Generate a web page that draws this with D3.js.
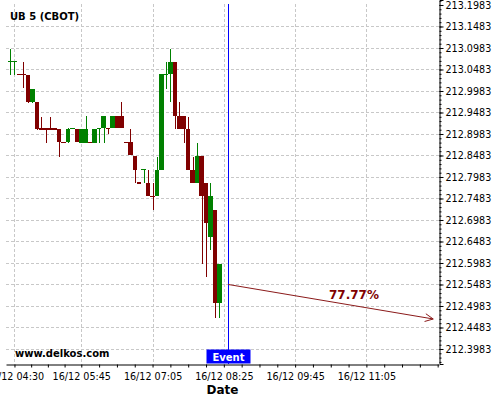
<!DOCTYPE html>
<html><head><meta charset="utf-8">
<script src="https://cdn.jsdelivr.net/npm/d3@7"></script>
<style>body{margin:0;background:#fff}svg{display:block;font-family:"DejaVu Sans",sans-serif}</style>
</head><body><svg id="c" width="500" height="400"></svg>
<script>
const times = ["04:25","04:30","04:35","04:40","04:45","04:50","04:55","05:00","05:05","05:10",
  "05:15","05:20","05:25","05:30","05:35","05:40","05:45","05:50","05:55","06:00",
  "06:05","06:10","06:15","06:20","06:25","06:30","06:35","06:40","06:45","06:50",
  "06:55","07:00","07:05","07:10","07:15","07:20","07:25","07:30","07:35","07:40",
  "07:45","07:50","07:55","08:00","08:05","08:10","08:15","08:20"];
const open  = [213.0670,213.0670,213.0380,213.0380,213.0360,212.9730,212.9730,212.9115,212.9115,212.9115,
  212.9115,212.9100,212.8795,212.8790,212.9115,212.9100,212.8770,212.8770,212.8795,212.8770,
  212.9115,212.9115,212.9120,212.9120,212.9400,212.9400,212.8795,212.8790,212.8470,212.7855,
  212.8165,212.7836,212.7545,212.7540,212.8146,213.0370,213.0370,213.0650,212.9400,212.9400,
  212.9100,212.8146,212.7850,212.8470,212.7850,212.6595,212.7216,212.5046];
const high  = [213.0950,213.0675,213.0380,213.0650,213.0360,213.0030,212.9730,212.9385,212.9115,212.9385,
  212.9115,212.9100,212.8795,212.9120,212.9120,212.9100,212.9100,212.9400,212.8795,212.9100,
  212.9120,212.9400,212.9120,212.9400,212.9400,212.9720,212.8795,212.9100,212.8470,212.7855,
  212.8170,212.8146,212.7840,212.8455,213.0370,213.0650,213.0950,213.0650,212.9720,212.9400,
  212.9385,212.8455,212.8770,212.8470,212.7850,212.7836,212.7216,212.5953];
const low   = [213.0360,213.0360,213.0375,213.0050,212.9710,212.9700,212.9080,212.9100,212.8770,212.9100,
  212.9110,212.8455,212.8790,212.8770,212.9115,212.8790,212.8770,212.8770,212.8790,212.8770,
  212.8770,212.8770,212.8980,212.9120,212.9115,212.9115,212.8790,212.8490,212.7836,212.7850,
  212.7836,212.7550,212.7216,212.7540,212.8146,213.0020,212.9720,212.9100,212.9100,212.8770,
  212.8146,212.7850,212.7850,212.5953,212.5650,212.6285,212.4697,212.4697];
const close = [213.0675,213.0675,213.0375,213.0375,212.9730,213.0030,212.9100,212.9110,212.9110,212.9110,
  212.9110,212.8790,212.8790,212.9100,212.9120,212.8790,212.9100,212.9100,212.8790,212.9100,
  212.9120,212.9400,212.9115,212.9400,212.9115,212.9115,212.8790,212.8490,212.8146,212.7850,
  212.8170,212.7550,212.7540,212.8146,213.0370,213.0375,213.0650,212.9400,212.9100,212.9100,
  212.8146,212.7850,212.8470,212.7550,212.6920,212.7540,212.5046,212.5953];
const xTickTimes  = ["04:30","05:45","07:05","08:25","09:45","11:05"];
const xTickLabels = ["16/12 04:30","16/12 05:45","16/12 07:05","16/12 08:25","16/12 09:45","16/12 11:05"];
const yTickLabels = ["212.3983","212.4483","212.4983","212.5483","212.5983","212.6483","212.6983","212.7483",
  "212.7983","212.8483","212.8983","212.9483","212.9983","213.0483","213.0983","213.1483","213.1983"];
const eventTime = "08:30";
const eventLabel = "Event";
const forecastTimes = ["08:30","12:20"];
const forecastPrices = [212.5483, 212.4681];
const forecastLabel = "77.77%";
const title = "UB 5 (CBOT)";
const watermark = "www.delkos.com";
const xTitle = "Date";

const mins = s => { const [h,m] = s.split(":").map(Number); return h*60+m; };
const GREEN = "#008000", RED = "#800000";
const svg = d3.select("#c");
const L = 6, R = 439, T = 0, B = 364;
const x = d3.scaleLinear().domain([260.5, 746.5]).range([L, R]);
const y = d3.scaleLinear().domain([212.3634, 213.2099]).range([B, T]);

const yMajor = yTickLabels.map(Number);
const xMajor = xTickTimes.map(mins);

// grid
const grid = svg.append("g").attr("stroke", "#c8c8c8").attr("stroke-dasharray", "3,2").attr("stroke-width", 1);
grid.selectAll("line.h").data(yMajor.filter(v => y(v) > 8)).join("line")
  .attr("x1", L).attr("x2", R).attr("y1", d => Math.round(y(d)) + 0.5).attr("y2", d => Math.round(y(d)) + 0.5);
grid.selectAll("line.v").data(xMajor).join("line")
  .attr("y1", 4).attr("y2", B).attr("x1", d => Math.round(x(d)) + 0.5).attr("x2", d => Math.round(x(d)) + 0.5);

// candles
const step = x(5) - x(0);
const candles = svg.append("g");
times.forEach((t, i) => {
  const cx = x(mins(t));
  const up = close[i] >= open[i];
  const col = up ? GREEN : RED;
  candles.append("line").attr("x1", Math.round(cx) + 0.5).attr("x2", Math.round(cx) + 0.5)
    .attr("y1", y(high[i])).attr("y2", y(low[i])).attr("stroke", col).attr("stroke-width", 1)
    .attr("shape-rendering", "crispEdges");
  const yt = y(Math.max(open[i], close[i])), yb = y(Math.min(open[i], close[i]));
  candles.append("rect").attr("x", cx - step / 2).attr("width", step)
    .attr("y", yt).attr("height", Math.max(1.2, yb - yt)).attr("fill", col)
    .attr("shape-rendering", "crispEdges");
});

// axes
const yAxis = svg.append("g").attr("transform", `translate(${R + 0.5},0)`)
  .call(d3.axisRight(y).tickValues(yMajor).tickSize(4).tickPadding(2).tickFormat((d, i) => yTickLabels[i]));
const yMinor = d3.range(-4, 85).map(k => 212.3983 + k * 0.01).filter(v => y(v) >= 0 && y(v) <= B);
svg.append("g").attr("transform", `translate(${R + 0.5},0)`)
  .call(d3.axisRight(y).tickValues(yMinor).tickSize(2).tickFormat(""))
  .call(g => g.select(".domain").remove());
yAxis.selectAll("text").attr("font-size", 9.6).attr("font-family", "DejaVu Sans").attr("fill", "#000");

const xMinor = [];
for (let k = 0; k < xMajor.length; k++) {
  const a = xMajor[k], b = k + 1 < xMajor.length ? xMajor[k + 1] : xMajor[k] + 80;
  for (let j = 1; j < 4; j++) xMinor.push(a + (b - a) * j / 4);
  if (k + 1 === xMajor.length) xMinor.push(b);
}
const xAxis = svg.append("g").attr("transform", `translate(0,${B + 0.5})`)
  .call(d3.axisBottom(x).tickValues(xMajor).tickSize(3).tickPadding(5.5).tickSizeOuter(0)
    .tickFormat((d, i) => xTickLabels[i]));
svg.append("g").attr("transform", `translate(0,${B + 0.5})`)
  .call(d3.axisBottom(x).tickValues(xMinor.filter(v => x(v) <= R)).tickSize(3).tickFormat(""))
  .call(g => g.select(".domain").remove());
xAxis.selectAll("text").attr("font-size", 9.6).attr("font-family", "DejaVu Sans").attr("fill", "#000");

svg.append("text").attr("x", (L + R) / 2).attr("y", 394).attr("text-anchor", "middle")
  .attr("font-size", 12).attr("font-weight", "bold").text(xTitle);

// event
const ex = Math.round(x(mins(eventTime))) + 0.5;
svg.append("line").attr("x1", ex).attr("x2", ex).attr("y1", 4).attr("y2", B)
  .attr("stroke", "#0000ff").attr("stroke-width", 1);
svg.append("rect").attr("x", ex - 22).attr("y", 349.5).attr("width", 44).attr("height", 14).attr("fill", "#0000ff");
svg.append("text").attr("x", ex).attr("y", 361).attr("text-anchor", "middle").attr("fill", "#fff")
  .attr("font-size", 10).attr("font-weight", "bold").text(eventLabel);

// forecast arrow
const fx0 = x(mins(forecastTimes[0])), fy0 = y(forecastPrices[0]);
const fx1 = x(mins(forecastTimes[1])), fy1 = y(forecastPrices[1]);
svg.append("line").attr("x1", fx0).attr("y1", fy0).attr("x2", fx1).attr("y2", fy1)
  .attr("stroke", "#8b1a1a").attr("stroke-width", 1);
const ang = Math.atan2(fy1 - fy0, fx1 - fx0);
[0.45, -0.45].forEach(a => {
  svg.append("line").attr("x1", fx1).attr("y1", fy1)
    .attr("x2", fx1 - 9 * Math.cos(ang + a)).attr("y2", fy1 - 9 * Math.sin(ang + a))
    .attr("stroke", "#8b1a1a").attr("stroke-width", 1);
});
svg.append("text").attr("x", 354).attr("y", 299).attr("text-anchor", "middle")
  .attr("fill", "#800000").attr("font-size", 12).attr("font-weight", "bold").text(forecastLabel);

// title & watermark
svg.append("text").attr("x", 10).attr("y", 19.5).attr("font-size", 10).attr("font-weight", "bold").text(title);
svg.append("text").attr("x", 15).attr("y", 357).attr("font-size", 10).attr("font-weight", "bold").text(watermark);
</script></body></html>
